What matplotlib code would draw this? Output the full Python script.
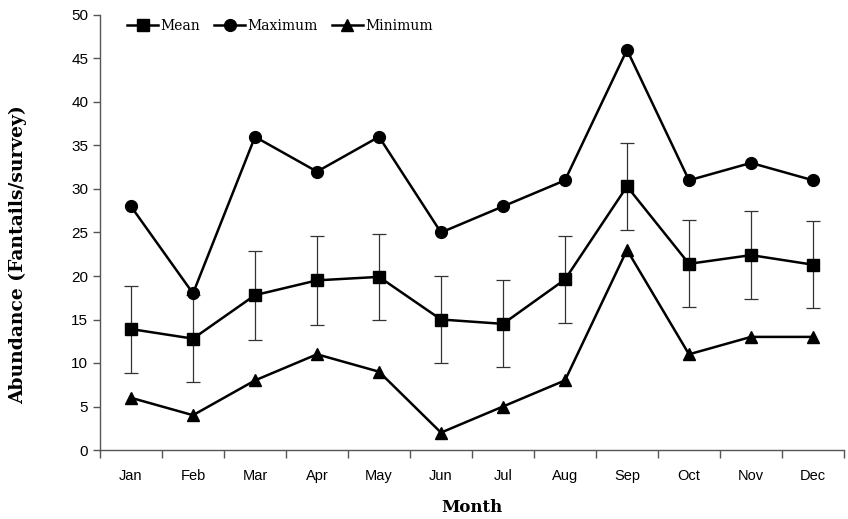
import matplotlib.pyplot as plt
import numpy as np

# Monthly fantail abundance
months = ["Jan", "Feb", "Mar", "Apr", "May", "Jun", "Jul", "Aug", "Sep", "Oct", "Nov", "Dec"]
mean_vals = [13.9, 12.8, 17.8, 19.5, 19.9, 15.0, 14.5, 19.6, 30.3, 21.4, 22.4, 21.3]
mean_err = [5.0, 5.0, 5.1, 5.1, 4.9, 5.0, 5.0, 5.0, 5.0, 5.0, 5.1, 5.0]
max_vals = [28, 18, 36, 32, 36, 25, 28, 31, 46, 31, 33, 31]
min_vals = [6, 4, 8, 11, 9, 2, 5, 8, 23, 11, 13, 13]

serif = "DejaVu Serif"
sans = "Liberation Sans"

fig = plt.figure(figsize=(8.48, 5.19), dpi=100)
ax = fig.add_axes([100 / 848, 1 - 450 / 519, 744 / 848, 435 / 519])

x = np.arange(len(months))

ax.errorbar(x, mean_vals, yerr=mean_err, fmt="none", ecolor="#333333",
            elinewidth=0.9, capsize=5, capthick=0.9, zorder=2)
ax.plot(x, mean_vals, color="black", lw=1.8, marker="s", ms=9, label="Mean", zorder=3)
ax.plot(x, max_vals, color="black", lw=1.8, marker="o", ms=8.5, label="Maximum", zorder=3)
ax.plot(x, min_vals, color="black", lw=1.8, marker="^", ms=9, label="Minimum", zorder=3)

ax.set_xlim(-0.5, len(months) - 0.5)
ax.set_ylim(0, 50)
ax.set_yticks(np.arange(0, 51, 5))
ax.set_xticks(x)
ax.set_xticklabels(months, fontfamily=sans, fontsize=10.5)
ax.set_xticks(np.arange(-0.5, len(months), 1), minor=True)
ax.tick_params(axis="x", which="major", length=0, pad=14)
ax.tick_params(axis="x", which="minor", length=6, width=1, color="#555555", direction="out")
ax.tick_params(axis="y", length=5, width=1, color="#555555", direction="out")
for lab in ax.get_yticklabels():
    lab.set_fontfamily(sans)
    lab.set_fontsize(11)

for s in ["top", "right"]:
    ax.spines[s].set_visible(False)
for s in ["left", "bottom"]:
    ax.spines[s].set_color("#555555")
    ax.spines[s].set_linewidth(1)

ax.set_xlabel("Month", fontfamily=serif, fontweight="bold", fontsize=12, labelpad=11)
ax.set_ylabel("Abundance (Fantails/survey)", fontfamily=serif, fontweight="bold",
              fontsize=13.5)
# label sits a bit below the axes centre in the original
ax.yaxis.set_label_coords(-0.098, 0.45)

ax.legend(loc="upper left", bbox_to_anchor=(0.02, 1.02), ncol=3, frameon=False,
          prop={"family": serif, "size": 10}, handlelength=2.2, handletextpad=0.2,
          columnspacing=1.0)

fig.savefig("out.png", dpi=100)
